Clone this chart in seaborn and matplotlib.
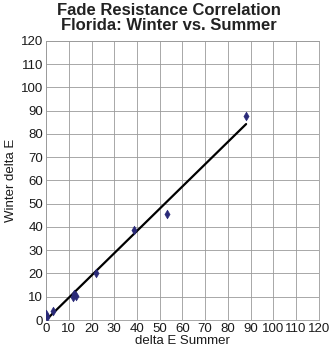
import numpy as np
import pandas as pd
import seaborn as sns
import matplotlib
matplotlib.use("Agg")
import matplotlib.pyplot as plt

summer = [0.0, 0.5, 3.0, 12.0, 12.5, 13.0, 22.0, 38.5, 53.0, 88.0]
winter = [2.5, 1.5, 4.0, 10.0, 11.0, 10.5, 20.0, 38.5, 45.5, 87.5]
ticks = list(range(0, 121, 10))

df = pd.DataFrame({"summer": summer, "winter": winter})

sns.set_style("white")
plt.rcParams['font.family'] = ['Liberation Sans', 'DejaVu Sans']

fig = plt.figure(figsize=(3.36, 3.49), dpi=100)
ax = fig.add_axes([0.137, 0.083, 0.812, 0.800])

# trendline through the origin (least squares, zero intercept)
x = np.asarray(summer)
y = np.asarray(winter)
slope = np.sum(x * y) / np.sum(x * x)
xs = np.array([x.min(), x.max()])
sns.lineplot(x=xs, y=slope * xs, color="black", lw=1.6, ax=ax)

sns.scatterplot(data=df, x="summer", y="winter", marker="d", s=20,
                color="#2a2a78", edgecolor="#2a2a78", linewidth=0.4, ax=ax, zorder=3)

ax.set_xlim(0, 120)
ax.set_ylim(0, 120)
ax.set_xticks(ticks)
ax.set_yticks(ticks)
ax.set_xticklabels([str(t) for t in ticks], fontsize=9.5)
ax.set_yticklabels([str(t) for t in ticks], fontsize=9.5)
ax.grid(True, color="#9a9a9a", lw=0.6)
ax.set_axisbelow(True)
for s in ax.spines.values():
    s.set_color("#9a9a9a")
    s.set_linewidth(0.6)
ax.tick_params(length=0, pad=2, colors="#1a1a1a")
ax.set_xlabel("delta E Summer", fontsize=9.5, labelpad=0, color="#1a1a1a")
ax.set_ylabel("Winter delta E", fontsize=9.5, labelpad=3, color="#1a1a1a")
fig.suptitle("Fade Resistance Correlation\nFlorida: Winter vs. Summer",
             x=0.503, y=0.99, fontsize=12, fontweight="bold", linespacing=0.95,
             color="#222222", va="top")

fig.savefig("out.png", dpi=100)
